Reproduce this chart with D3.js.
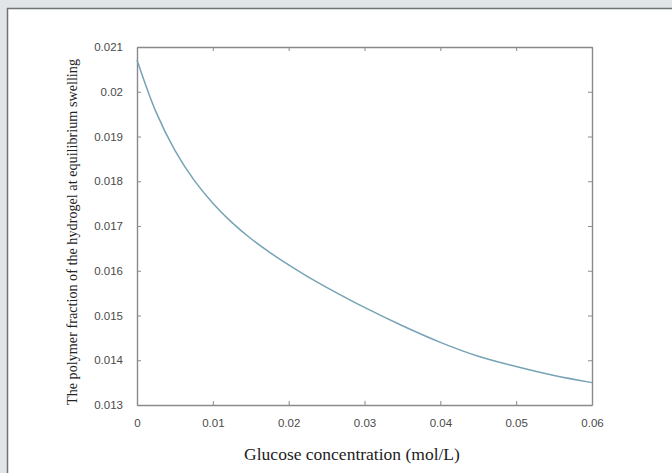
<!DOCTYPE html>
<html>
<head>
<meta charset="utf-8">
<script src="https://cdn.jsdelivr.net/npm/d3@7"></script>
<style>
  html, body { margin: 0; padding: 0; background: #e1e5e7; }
  svg { display: block; }
</style>
</head>
<body>
<svg id="chart" width="672" height="473"></svg>
<script>
// Data
const glucose = [0, 0.0025, 0.005, 0.0075, 0.01, 0.0125, 0.015, 0.0175, 0.02, 0.0225, 0.025, 0.03, 0.035, 0.04, 0.045, 0.05, 0.055, 0.06];
const polymerFraction = [0.02071, 0.01955, 0.01869, 0.01803, 0.01751, 0.01708, 0.01672, 0.01641, 0.01613, 0.01587, 0.01563, 0.01518, 0.01477, 0.01440, 0.01409, 0.01386, 0.01366, 0.01350];
const xTicks = [0, 0.01, 0.02, 0.03, 0.04, 0.05, 0.06];
const xTickLabels = ["0", "0.01", "0.02", "0.03", "0.04", "0.05", "0.06"];
const yTicks = [0.013, 0.014, 0.015, 0.016, 0.017, 0.018, 0.019, 0.02, 0.021];
const yTickLabels = ["0.013", "0.014", "0.015", "0.016", "0.017", "0.018", "0.019", "0.02", "0.021"];
const xLabel = "Glucose concentration (mol/L)";
const yLabel = "The polymer fraction of the hydrogel at equilibrium swelling";

const svg = d3.select("#chart");

// outer panel
svg.append("rect").attr("x", 0).attr("y", 0).attr("width", 672).attr("height", 473).attr("fill", "#e1e5e7");
svg.append("rect").attr("x", 7).attr("y", 8).attr("width", 672).attr("height", 480).attr("fill", "#ffffff");
svg.append("line").attr("x1", 7).attr("x2", 672).attr("y1", 8.5).attr("y2", 8.5).attr("stroke", "#6f7476").attr("stroke-width", 1.5);
svg.append("line").attr("x1", 7.5).attr("x2", 7.5).attr("y1", 8).attr("y2", 473).attr("stroke", "#6f7476").attr("stroke-width", 1.5);

const L = 137, R = 592, T = 47, B = 405;
const x = d3.scaleLinear().domain([0, 0.06]).range([L, R]);
const y = d3.scaleLinear().domain([0.013, 0.021]).range([B, T]);

const axisColor = "#8a8a8a";
const tickFont = "'Liberation Sans', Arial, sans-serif";

// bottom axis
const xAxis = d3.axisBottom(x).tickValues(xTicks).tickFormat((d, i) => xTickLabels[i]).tickSizeInner(-4).tickSizeOuter(0).tickPadding(14);
const gx = svg.append("g").attr("transform", `translate(0,${B})`).call(xAxis);
// top axis
const gxt = svg.append("g").attr("transform", `translate(0,${T})`).call(d3.axisTop(x).tickValues(xTicks).tickFormat("").tickSizeInner(-4).tickSizeOuter(0));
// left axis
const yAxis = d3.axisLeft(y).tickValues(yTicks).tickFormat((d, i) => yTickLabels[i]).tickSizeInner(-4).tickSizeOuter(0).tickPadding(14);
const gy = svg.append("g").attr("transform", `translate(${L},0)`).call(yAxis);
// right axis
const gyr = svg.append("g").attr("transform", `translate(${R},0)`).call(d3.axisRight(y).tickValues(yTicks).tickFormat("").tickSizeInner(-4).tickSizeOuter(0));

[gx, gxt, gy, gyr].forEach(g => {
  g.select(".domain").attr("stroke", axisColor).attr("stroke-width", 1.4);
  g.selectAll(".tick line").attr("stroke", axisColor);
  g.selectAll(".tick text").attr("fill", "#4a4a4a").style("font-family", tickFont).style("font-size", "11.5px");
});

// curve
const line = d3.line().x((d, i) => x(glucose[i])).y(d => y(d)).curve(d3.curveCatmullRom.alpha(0.5));
svg.append("path").datum(polymerFraction)
  .attr("d", line)
  .attr("fill", "none")
  .attr("stroke", "#76a3b5")
  .attr("stroke-width", 1.5);

// axis labels
svg.append("text")
  .attr("x", 352).attr("y", 460)
  .attr("text-anchor", "middle")
  .style("font-family", "'Liberation Serif', 'Times New Roman', serif")
  .style("font-size", "17.5px")
  .attr("fill", "#222")
  .text(xLabel);

svg.append("text")
  .attr("transform", "translate(77,232) rotate(-90)")
  .attr("text-anchor", "middle")
  .attr("textLength", 346)
  .attr("lengthAdjust", "spacingAndGlyphs")
  .style("font-family", "'Liberation Serif', 'Times New Roman', serif")
  .style("font-size", "14px")
  .attr("fill", "#222")
  .text(yLabel);
</script>
</body>
</html>
